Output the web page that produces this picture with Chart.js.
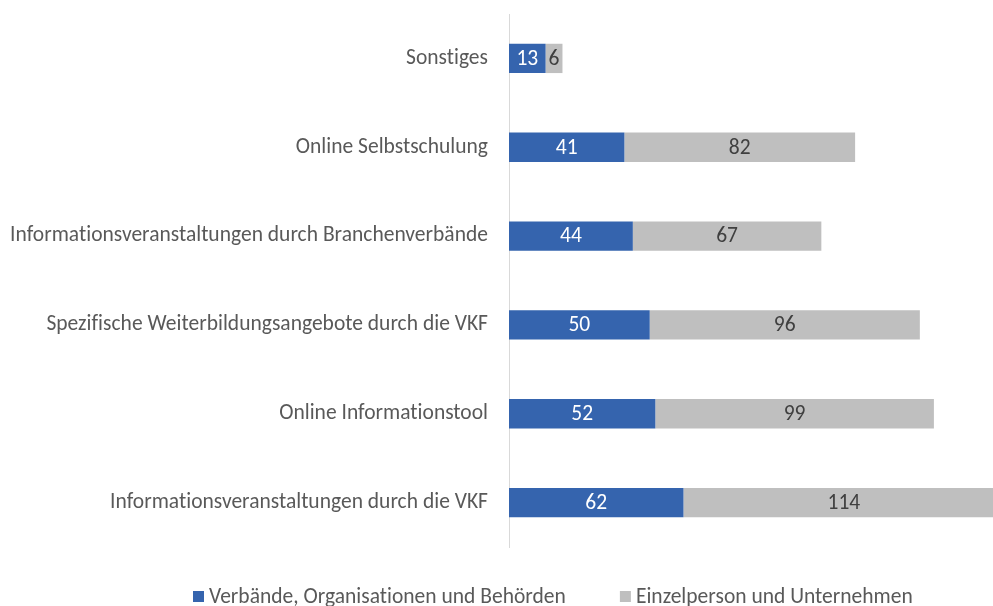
<!DOCTYPE html>
<html lang="de">
<head>
<meta charset="utf-8">
<title>Weiterbildungsangebote</title>
<script src="https://cdn.jsdelivr.net/npm/chart.js@4/dist/chart.umd.min.js"></script>
<style>
  body { margin: 0; background: #fff; }
</style>
</head>
<body>
<canvas id="chart" width="993" height="606"></canvas>
<script>
const categories = [
    'Sonstiges',
    'Online Selbstschulung',
    'Informationsveranstaltungen durch Branchenverbände',
    'Spezifische Weiterbildungsangebote durch die VKF',
    'Online Informationstool',
    'Informationsveranstaltungen durch die VKF'
];
const verbaende = [13, 41, 44, 50, 52, 62];
const einzelpersonen = [6, 82, 67, 96, 99, 114];
const seriesNames = ['Verbände, Organisationen und Behörden', 'Einzelperson und Unternehmen'];

const FONT = "Carlito, 'Liberation Sans Narrow', 'Open Sans', sans-serif";
const BLUE = '#3564AE';
const GREY = '#BFBFBF';

// tiny letter spacing keeps the font from joining "ti" into a ligature
const noLigatures = {
    id: 'noLigatures',
    beforeDraw(chart) {
        chart.ctx.letterSpacing = '0.01px';
    }
};

// value labels centred in each segment
const segmentLabels = {
    id: 'segmentLabels',
    afterDatasetsDraw(chart) {
        const ctx = chart.ctx;
        ctx.save();
        ctx.font = `21.5px ${FONT}`;
        ctx.textAlign = 'center';
        ctx.textBaseline = 'middle';
        chart.data.datasets.forEach((ds, i) => {
            chart.getDatasetMeta(i).data.forEach((bar, j) => {
                ctx.fillStyle = ds.labelColor;
                ctx.fillText(ds.data[j], (bar.x + bar.base) / 2, bar.y + 1);
            });
        });
        ctx.restore();
    }
};

// legend along the bottom, small square + text
const bottomLegend = {
    id: 'bottomLegend',
    afterDraw(chart) {
        const ctx = chart.ctx;
        ctx.save();
        ctx.font = `21.5px ${FONT}`;
        ctx.textBaseline = 'middle';
        let x = 193;
        const y = 597;
        chart.data.datasets.forEach(ds => {
            ctx.fillStyle = ds.backgroundColor;
            ctx.fillRect(x, y - 6, 11, 11);
            ctx.fillStyle = '#595959';
            ctx.fillText(ds.label, x + 16, y + 1);
            x += 16 + ctx.measureText(ds.label).width + 54;
        });
        ctx.restore();
    }
};

new Chart(document.getElementById('chart'), {
    type: 'bar',
    data: {
        labels: categories,
        datasets: [
            { label: seriesNames[0], data: verbaende, backgroundColor: BLUE, labelColor: '#FFFFFF' },
            { label: seriesNames[1], data: einzelpersonen, backgroundColor: GREY, labelColor: '#404040' }
        ]
    },
    options: {
        indexAxis: 'y',
        responsive: false,
        animation: false,
        layout: { padding: { top: 14, bottom: 59, left: 0, right: 0 } },
        datasets: { bar: { categoryPercentage: 1, barPercentage: 0.33 } },
        plugins: {
            legend: { display: false },
            tooltip: { enabled: false }
        },
        scales: {
            x: { stacked: true, display: false, min: 0, max: 172 },
            y: {
                stacked: true,
                grid: { display: false, drawTicks: false },
                border: { color: '#D9D9D9', width: 1 },
                ticks: { color: '#595959', padding: 21, font: { family: FONT, size: 21.5 } },
                afterFit(scale) {
                    scale.width = 509;
                    scale.paddingTop = 0;
                    scale.paddingBottom = 0;
                }
            }
        }
    },
    plugins: [noLigatures, segmentLabels, bottomLegend]
});
</script>
</body>
</html>
